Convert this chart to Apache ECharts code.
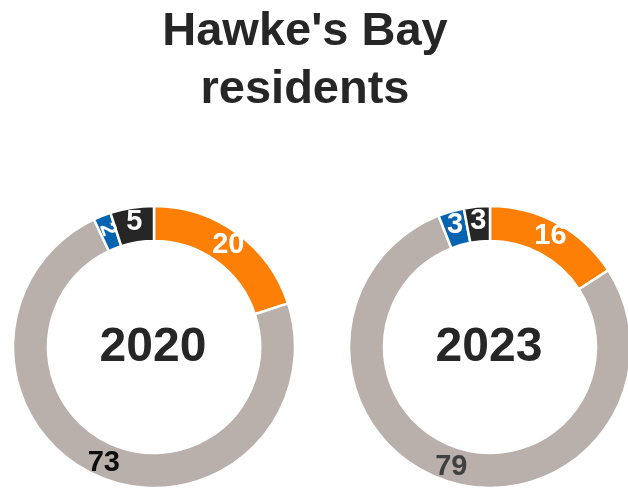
<!DOCTYPE html>
<html>
<head>
<meta charset="utf-8">
<script src="https://cdn.jsdelivr.net/npm/echarts@6/dist/echarts.min.js"></script>
<style>
html,body{margin:0;padding:0;background:#fff;}
#chart{width:628px;height:488px;}
</style>
</head>
<body>
<div id="chart"></div>
<script>
var titleText = "Hawke's Bay\nresidents";
var years = ['2020', '2023'];
var categories = ['Orange', 'Grey', 'Blue', 'Black'];
var values2020 = [20, 73, 2, 5];
var values2023 = [16, 79, 3, 3];
var sliceColors = ['#FD7F06', '#B9B0AC', '#0563B0', '#262626'];
var labelColors2020 = ['#ffffff', '#0d0d0d', '#ffffff', '#ffffff'];
var labelColors2023 = ['#ffffff', '#404040', '#ffffff', '#ffffff'];

var centers = [[154, 347], [490, 347]];
var allValues = [values2020, values2023];
var allLabelColors = [labelColors2020, labelColors2023];

function buildData(vals, lcols, idx) {
  return categories.map(function (c, i) {
    var d = {
      name: c,
      value: vals[i],
      itemStyle: { color: sliceColors[i] },
      label: { color: lcols[i] }
    };
    if (idx === 0 && i === 2) {
      d.label.rotate = -70;
      d.label.fontSize = 22;
    }
    return d;
  });
}

var series = years.map(function (y, k) {
  return {
    type: 'pie',
    center: centers[k],
    radius: [106, 141],
    startAngle: 90,
    clockwise: true,
    silent: true,
    animation: false,
    itemStyle: { borderColor: '#ffffff', borderWidth: 2.5 },
    label: {
      show: true,
      position: 'inside',
      formatter: '{c}',
      fontFamily: 'Liberation Sans',
      fontWeight: 'bold',
      fontSize: 29
    },
    labelLine: { show: false },
    data: buildData(allValues[k], allLabelColors[k], k)
  };
});

var titles = [{
  text: titleText,
  left: 305,
  top: 3,
  padding: 0,
  textAlign: 'center',
  textStyle: {
    fontFamily: 'Liberation Sans',
    fontWeight: 'bold',
    fontSize: 47,
    lineHeight: 58,
    color: '#262626'
  }
}];
years.forEach(function (y, k) {
  titles.push({
    text: y,
    left: centers[k][0] - 1,
    top: centers[k][1] - 27,
    padding: 0,
    textAlign: 'center',
    textStyle: {
      fontFamily: 'Liberation Sans',
      fontWeight: 'bold',
      fontSize: 48,
      lineHeight: 56,
      color: '#262626'
    }
  });
});

var chart = echarts.init(document.getElementById('chart'), null, { renderer: 'canvas' });
chart.setOption({
  animation: false,
  backgroundColor: '#ffffff',
  title: titles,
  series: series
});
</script>
</body>
</html>
